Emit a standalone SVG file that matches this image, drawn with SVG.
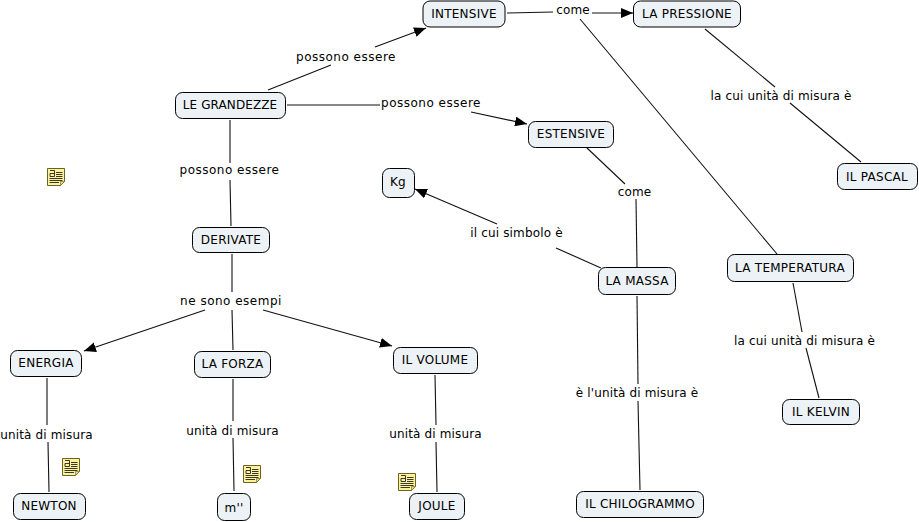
<svg xmlns="http://www.w3.org/2000/svg" width="919" height="522" viewBox="0 0 919 522">
<style>
text{font-family:"DejaVu Sans",Verdana,sans-serif;font-size:12px;fill:#000;text-anchor:middle}
.w{letter-spacing:.5px}
.s{letter-spacing:.15px}
.n text{letter-spacing:.25px}
.n rect{fill:#ecf2f5;stroke:#000;stroke-width:1}
.c line{stroke:#111;stroke-width:1.1}
</style>
<defs>
<marker id="a" viewBox="0 0 12 10" refX="12" refY="5" markerWidth="12" markerHeight="10" markerUnits="userSpaceOnUse" orient="auto"><path d="M0 0L12 5L0 10Z" fill="#000"/></marker>
<g id="note"><path d="M0.500 0.500H17.500V13.500L13.500 17.500H0.500Z" fill="#fff29a" stroke="#6b6420"/><path d="M17.500 13.500H13.500V17.500Z" fill="#e8d878" stroke="#6b6420" stroke-width=".6"/><path d="M2.500 14.500H12M2.500 12.500H15.500M2.500 10.500H15.500M9 8.500H15.500M9 6.500H15.500M9 4.500H15.500M3 2.500H7.500V8.500H3V5.500H7.500" fill="none" stroke="#222" stroke-width=".9"/></g>
</defs>
<rect width="919" height="522" fill="#fff"/>
<g id="connectors" class="c">
<line x1="268" y1="90" x2="331" y2="65"/>
<line x1="375" y1="47" x2="426" y2="28" marker-end="url(#a)"/>
<line x1="287" y1="105" x2="380" y2="105"/>
<line x1="471" y1="112" x2="527" y2="124" marker-end="url(#a)"/>
<line x1="230" y1="120" x2="230" y2="163"/>
<line x1="230" y1="180" x2="231" y2="226"/>
<line x1="507" y1="13" x2="553" y2="12"/>
<line x1="592" y1="13" x2="633" y2="13" marker-end="url(#a)"/>
<line x1="580" y1="19" x2="777" y2="254"/>
<line x1="705" y1="29" x2="775" y2="87"/>
<line x1="790" y1="103" x2="861" y2="162"/>
<line x1="587" y1="148" x2="625" y2="184"/>
<line x1="636" y1="199" x2="637" y2="267"/>
<line x1="601" y1="268" x2="556" y2="248"/>
<line x1="497" y1="224" x2="415" y2="189" marker-end="url(#a)"/>
<line x1="637" y1="296" x2="638" y2="384"/>
<line x1="638" y1="401" x2="640" y2="490"/>
<line x1="793" y1="283" x2="802" y2="332"/>
<line x1="806" y1="348" x2="819" y2="398"/>
<line x1="232" y1="254" x2="232" y2="292"/>
<line x1="205" y1="310" x2="84" y2="351" marker-end="url(#a)"/>
<line x1="232" y1="310" x2="233" y2="350"/>
<line x1="263" y1="310" x2="392" y2="346" marker-end="url(#a)"/>
<line x1="47" y1="378" x2="47" y2="425"/>
<line x1="48" y1="442" x2="49" y2="492"/>
<line x1="233" y1="379" x2="233" y2="421"/>
<line x1="233" y1="438" x2="234" y2="491"/>
<line x1="435" y1="375" x2="436" y2="425"/>
<line x1="436" y1="442" x2="437" y2="492"/>
</g>
<g id="labels">
<text class="w" x="346" y="61">possono essere</text>
<text class="w" x="431" y="107">possono essere</text>
<text class="w" x="229.500" y="174">possono essere</text>
<text class="s" x="573" y="14">come</text>
<text class="s" x="781" y="100">la cui unità di misura è</text>
<text class="s" x="634.500" y="196">come</text>
<text class="s" x="516.500" y="237">il cui simbolo è</text>
<text class="w" x="231" y="305">ne sono esempi</text>
<text class="s" x="804.500" y="345">la cui unità di misura è</text>
<text class="s" x="637" y="397">è l'unità di misura è</text>
<text class="s" x="46.500" y="439">unità di misura</text>
<text class="s" x="232.500" y="435">unità di misura</text>
<text class="s" x="435.500" y="438">unità di misura</text>
</g>
<g id="n-intensive" class="n"><rect x="423" y="1" width="82" height="26" rx="7"/><text x="464" y="18">INTENSIVE</text></g>
<g id="n-pressione" class="n"><rect x="633.500" y="1" width="107" height="26" rx="7"/><text x="687" y="18">LA PRESSIONE</text></g>
<g id="n-grandezze" class="n"><rect x="175.500" y="92.500" width="110" height="26" rx="7"/><text x="230" y="109" style="letter-spacing:.1px">LE GRANDEZZE</text></g>
<g id="n-estensive" class="n"><rect x="528.500" y="121.500" width="85" height="26" rx="7"/><text x="571" y="138">ESTENSIVE</text></g>
<g id="n-kg" class="n"><rect x="382.500" y="168.500" width="32" height="29" rx="7"/><text x="398" y="186">Kg</text></g>
<g id="n-pascal" class="n"><rect x="837.500" y="163.500" width="80" height="26" rx="7"/><text x="877" y="181">IL PASCAL</text></g>
<g id="n-derivate" class="n"><rect x="192.500" y="227.500" width="77" height="25" rx="7"/><text x="231" y="244">DERIVATE</text></g>
<g id="n-massa" class="n"><rect x="598.500" y="267.500" width="77" height="27" rx="7"/><text x="637" y="285">LA MASSA</text></g>
<g id="n-temperatura" class="n"><rect x="727.500" y="254.500" width="126" height="27" rx="7"/><text x="790" y="272">LA TEMPERATURA</text></g>
<g id="n-energia" class="n"><rect x="10.500" y="350.500" width="71" height="26" rx="7"/><text x="46" y="367">ENERGIA</text></g>
<g id="n-forza" class="n"><rect x="194.500" y="351.500" width="76" height="26" rx="7"/><text x="232.500" y="368">LA FORZA</text></g>
<g id="n-volume" class="n"><rect x="393.500" y="347.500" width="84" height="26" rx="7"/><text x="435" y="364">IL VOLUME</text></g>
<g id="n-kelvin" class="n"><rect x="782.500" y="399.500" width="77" height="25" rx="7"/><text x="821" y="416">IL KELVIN</text></g>
<g id="n-newton" class="n"><rect x="13.500" y="493.500" width="72" height="26" rx="7"/><text x="49" y="510">NEWTON</text></g>
<g id="n-m" class="n"><rect x="217.500" y="493.500" width="33" height="27" rx="7"/><text x="234" y="512">m''</text></g>
<g id="n-joule" class="n"><rect x="409.500" y="493.500" width="55" height="26" rx="7"/><text x="437" y="510">JOULE</text></g>
<g id="n-chilogrammo" class="n"><rect x="576.500" y="491.500" width="127" height="26" rx="7"/><text x="640" y="508">IL CHILOGRAMMO</text></g>
<g id="notes">
<use href="#note" x="47" y="168"/>
<use href="#note" x="62" y="458"/>
<use href="#note" x="243" y="465"/>
<use href="#note" x="398" y="473"/>
</g>
</svg>
